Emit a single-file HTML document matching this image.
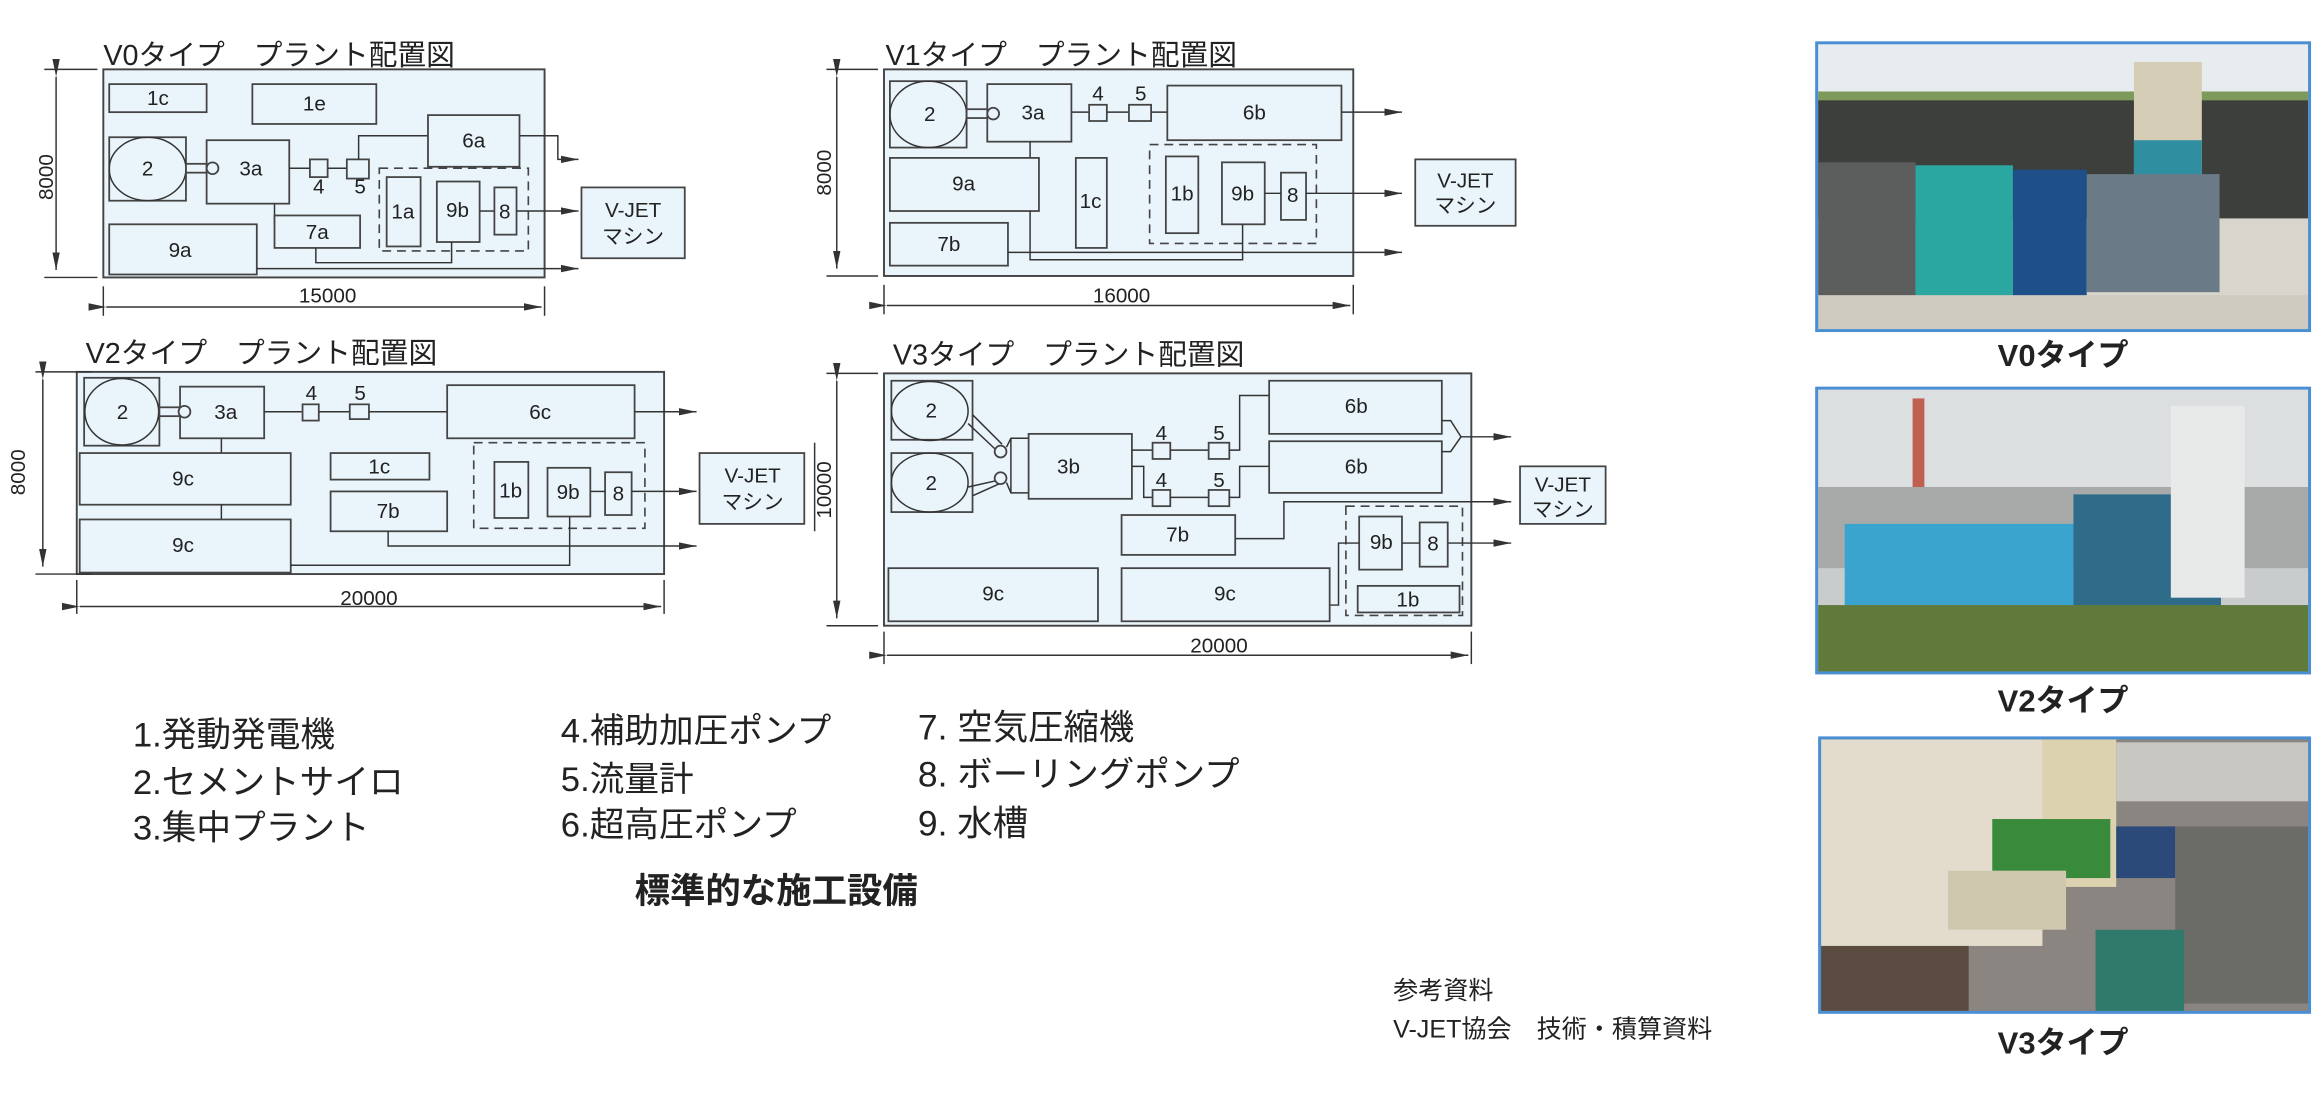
<!DOCTYPE html>
<html><head><meta charset="utf-8"><style>
html,body{margin:0;padding:0;background:#fff;}
svg{display:block;}
text{font-family:"Liberation Sans","Noto Sans CJK JP",sans-serif;fill:#222;}
.f{fill:#eaf4fb;stroke:#444;stroke-width:1.3;}
.b{fill:#eaf4fb;stroke:#444;stroke-width:1.2;}
.l{fill:none;stroke:#333;stroke-width:1;}
.d{fill:none;stroke:#444;stroke-width:1.1;stroke-dasharray:6,4;}
.t{font-size:14px;text-anchor:middle;}
.h{font-size:19.5px;}
.g{font-size:23.5px;}
.c{font-size:21px;font-weight:bold;text-anchor:middle;}
</style></head><body>
<svg width="2314" height="1095" viewBox="0 0 1568 742" xmlns="http://www.w3.org/2000/svg">
<defs><marker id="a" markerWidth="12" markerHeight="6" refX="12" refY="3" orient="auto" markerUnits="userSpaceOnUse"><path d="M0,0.5 L12,3 L0,5.5 z" fill="#333"/></marker></defs>

<!-- V0 -->
<text class="h" x="70" y="44">V0タイプ　プラント配置図</text>
<rect class="f" x="70" y="47" width="299" height="141"/>
<line class="l" x1="30" y1="47" x2="66" y2="47"/><line class="l" x1="30" y1="188" x2="66" y2="188"/>
<line class="l" x1="38" y1="52" x2="38" y2="183" marker-end="url(#a)" marker-start="url(#a)"/>
<text class="t" transform="translate(36,120) rotate(-90)" x="0" y="0">8000</text>
<line class="l" x1="70" y1="194" x2="70" y2="214"/><line class="l" x1="369" y1="194" x2="369" y2="214"/>
<line class="l" x1="72" y1="208" x2="367" y2="208" marker-end="url(#a)" marker-start="url(#a)"/>
<text class="t" x="222" y="205">15000</text>
<rect class="b" x="74" y="57" width="66" height="19"/><text class="t" x="107" y="71">1c</text>
<rect class="b" x="171" y="57" width="84" height="27"/><text class="t" x="213" y="75">1e</text>
<rect class="b" x="74" y="93" width="52" height="43"/><ellipse class="l" cx="100" cy="114.5" rx="26" ry="21.5"/><text class="t" x="100" y="119">2</text>
<rect class="b" x="126" y="111" width="14" height="6"/>
<rect class="b" x="140" y="95" width="56" height="43"/><text class="t" x="170" y="119">3a</text>
<circle class="b" cx="144" cy="114" r="4"/>
<line class="l" x1="196" y1="114" x2="210" y2="114"/>
<rect class="b" x="210" y="108" width="12" height="12"/><text class="t" x="216" y="131">4</text>
<line class="l" x1="222" y1="114" x2="235" y2="114"/>
<rect class="b" x="235" y="108" width="15" height="13"/><text class="t" x="244" y="131">5</text>
<polyline class="l" points="243,108 243,92 290,92"/>
<rect class="b" x="290" y="78" width="62" height="35"/><text class="t" x="321" y="100">6a</text>
<polyline class="l" points="352,92 378,92 378,108 392,108" marker-end="url(#a)"/>
<rect class="d" x="257" y="114" width="101" height="56"/>
<rect class="b" x="262" y="120" width="23" height="47"/><text class="t" x="273" y="148">1a</text>
<rect class="b" x="296" y="123" width="29" height="41"/><text class="t" x="310" y="147">9b</text>
<rect class="b" x="335" y="127" width="15" height="32"/><text class="t" x="342" y="148">8</text>
<line class="l" x1="325" y1="143" x2="335" y2="143"/>
<line class="l" x1="350" y1="143" x2="392" y2="143" marker-end="url(#a)"/>
<rect class="b" x="394" y="127" width="70" height="48"/><text class="t" x="429" y="147">V-JET</text><text class="t" x="429" y="165">マシン</text>
<line class="l" x1="186" y1="138" x2="186" y2="152"/>
<rect class="b" x="74" y="152" width="100" height="34"/><text class="t" x="122" y="174">9a</text>
<rect class="b" x="186" y="146" width="58" height="22"/><text class="t" x="215" y="162">7a</text>
<polyline class="l" points="214,168 214,178 306,178 306,164"/>
<line class="l" x1="174" y1="182" x2="392" y2="182" marker-end="url(#a)"/>

<!-- V1 -->
<text class="h" x="600" y="44">V1タイプ　プラント配置図</text>
<rect class="f" x="599" y="47" width="318" height="140"/>
<line class="l" x1="560" y1="47" x2="595" y2="47"/><line class="l" x1="560" y1="187" x2="595" y2="187"/>
<line class="l" x1="567" y1="52" x2="567" y2="182" marker-end="url(#a)" marker-start="url(#a)"/>
<text class="t" transform="translate(563,117) rotate(-90)">8000</text>
<line class="l" x1="599" y1="193" x2="599" y2="213"/><line class="l" x1="917" y1="193" x2="917" y2="213"/>
<line class="l" x1="601" y1="207" x2="915" y2="207" marker-end="url(#a)" marker-start="url(#a)"/>
<text class="t" x="760" y="205">16000</text>
<rect class="b" x="603" y="55" width="52" height="45"/><ellipse class="l" cx="629" cy="77.5" rx="26" ry="22.5"/><text class="t" x="630" y="82">2</text>
<rect class="b" x="655" y="74" width="15" height="6"/>
<rect class="b" x="669" y="57" width="57" height="39"/><text class="t" x="700" y="81">3a</text>
<circle class="b" cx="673" cy="77" r="4"/>
<line class="l" x1="726" y1="76" x2="738" y2="76"/>
<rect class="b" x="738" y="71" width="12" height="11"/><text class="t" x="744" y="68">4</text>
<line class="l" x1="750" y1="76" x2="765" y2="76"/>
<rect class="b" x="765" y="71" width="15" height="11"/><text class="t" x="773" y="68">5</text>
<line class="l" x1="780" y1="76" x2="791" y2="76"/>
<rect class="b" x="791" y="58" width="118" height="37"/><text class="t" x="850" y="81">6b</text>
<line class="l" x1="909" y1="76" x2="950" y2="76" marker-end="url(#a)"/>
<line class="l" x1="698" y1="96" x2="698" y2="107"/>
<rect class="b" x="603" y="107" width="101" height="36"/><text class="t" x="653" y="129">9a</text>
<rect class="b" x="729" y="107" width="21" height="61"/><text class="t" x="739" y="141">1c</text>
<rect class="d" x="779" y="98" width="113" height="67"/>
<rect class="b" x="790" y="106" width="22" height="52"/><text class="t" x="801" y="136">1b</text>
<rect class="b" x="828" y="110" width="29" height="42"/><text class="t" x="842" y="136">9b</text>
<rect class="b" x="868" y="117" width="17" height="32"/><text class="t" x="876" y="137">8</text>
<line class="l" x1="857" y1="131" x2="868" y2="131"/>
<line class="l" x1="885" y1="131" x2="950" y2="131" marker-end="url(#a)"/>
<rect class="b" x="959" y="108" width="68" height="45"/><text class="t" x="993" y="127">V-JET</text><text class="t" x="993" y="144">マシン</text>
<rect class="b" x="603" y="151" width="80" height="29"/><text class="t" x="643" y="170">7b</text>
<polyline class="l" points="698,143 698,176 842,176 842,152"/>
<line class="l" x1="683" y1="171" x2="950" y2="171" marker-end="url(#a)"/>

<!-- V2 -->
<text class="h" x="58" y="246">V2タイプ　プラント配置図</text>
<rect class="f" x="52" y="252" width="398" height="137"/>
<line class="l" x1="24" y1="252" x2="62" y2="252"/><line class="l" x1="24" y1="389" x2="62" y2="389"/>
<line class="l" x1="29" y1="257" x2="29" y2="384" marker-end="url(#a)" marker-start="url(#a)"/>
<text class="t" transform="translate(17,320) rotate(-90)">8000</text>
<line class="l" x1="52" y1="393" x2="52" y2="416"/><line class="l" x1="450" y1="393" x2="450" y2="416"/>
<line class="l" x1="54" y1="411" x2="448" y2="411" marker-end="url(#a)" marker-start="url(#a)"/>
<text class="t" x="250" y="410">20000</text>
<rect class="b" x="57" y="256" width="51" height="46"/><ellipse class="l" cx="82.5" cy="279" rx="25" ry="22.5"/><text class="t" x="83" y="284">2</text>
<rect class="b" x="108" y="276" width="14" height="6"/>
<rect class="b" x="122" y="262" width="57" height="35"/><text class="t" x="153" y="284">3a</text>
<circle class="b" cx="125" cy="279" r="4"/>
<line class="l" x1="179" y1="279" x2="205" y2="279"/>
<rect class="b" x="205" y="274" width="11" height="11"/><text class="t" x="211" y="271">4</text>
<line class="l" x1="216" y1="279" x2="237" y2="279"/>
<rect class="b" x="237" y="274" width="13" height="10"/><text class="t" x="244" y="271">5</text>
<line class="l" x1="250" y1="279" x2="303" y2="279"/>
<rect class="b" x="303" y="261" width="127" height="36"/><text class="t" x="366" y="284">6c</text>
<line class="l" x1="430" y1="279" x2="472" y2="279" marker-end="url(#a)"/>
<line class="l" x1="150" y1="297" x2="150" y2="307"/>
<rect class="b" x="54" y="307" width="143" height="35"/><text class="t" x="124" y="329">9c</text>
<line class="l" x1="150" y1="342" x2="150" y2="352"/>
<rect class="b" x="54" y="352" width="143" height="36"/><text class="t" x="124" y="374">9c</text>
<rect class="b" x="224" y="307" width="67" height="18"/><text class="t" x="257" y="321">1c</text>
<rect class="b" x="224" y="333" width="79" height="27"/><text class="t" x="263" y="351">7b</text>
<polyline class="l" points="263,360 263,370 472,370" marker-end="url(#a)"/>
<rect class="d" x="321" y="300" width="116" height="58"/>
<rect class="b" x="335" y="313" width="23" height="38"/><text class="t" x="346" y="337">1b</text>
<rect class="b" x="371" y="317" width="29" height="33"/><text class="t" x="385" y="338">9b</text>
<rect class="b" x="410" y="320" width="18" height="29"/><text class="t" x="419" y="339">8</text>
<line class="l" x1="400" y1="333" x2="410" y2="333"/>
<line class="l" x1="428" y1="333" x2="472" y2="333" marker-end="url(#a)"/>
<rect class="b" x="474" y="307" width="71" height="48"/><text class="t" x="510" y="327">V-JET</text><text class="t" x="510" y="345">マシン</text>
<polyline class="l" points="197,383 386,383 386,350"/>

<!-- V3 -->
<text class="h" x="605" y="247">V3タイプ　プラント配置図</text>
<rect class="f" x="599" y="253" width="398" height="171"/>
<line class="l" x1="560" y1="253" x2="595" y2="253"/><line class="l" x1="560" y1="424" x2="595" y2="424"/>
<line class="l" x1="567" y1="258" x2="567" y2="419" marker-end="url(#a)" marker-start="url(#a)"/>
<line class="l" x1="552" y1="300" x2="552" y2="360"/>
<text class="t" transform="translate(563,332) rotate(-90)">10000</text>
<line class="l" x1="599" y1="428" x2="599" y2="450"/><line class="l" x1="997" y1="428" x2="997" y2="450"/>
<line class="l" x1="601" y1="444" x2="995" y2="444" marker-end="url(#a)" marker-start="url(#a)"/>
<text class="t" x="826" y="442">20000</text>
<rect class="b" x="604" y="258" width="55" height="40"/><ellipse class="l" cx="630" cy="278.5" rx="26" ry="20"/><text class="t" x="631" y="283">2</text>
<rect class="b" x="604" y="307" width="55" height="40"/><ellipse class="l" cx="630" cy="327" rx="26" ry="20"/><text class="t" x="631" y="332">2</text>
<line class="l" x1="656" y1="287" x2="674" y2="304"/><line class="l" x1="659" y1="281" x2="679" y2="301"/>
<line class="l" x1="656" y1="330" x2="674" y2="326"/><line class="l" x1="659" y1="336" x2="679" y2="327"/>
<circle class="b" cx="678" cy="306" r="4"/><circle class="b" cx="678" cy="324" r="4"/>
<polyline class="l" points="682,303 685,297 697,297"/><polyline class="l" points="682,327 685,334 697,334"/>
<line class="l" x1="685" y1="297" x2="685" y2="334"/>
<rect class="b" x="697" y="294" width="70" height="44"/><text class="t" x="724" y="321">3b</text>
<polyline class="l" points="767,305 781,305"/>
<rect class="b" x="781" y="300" width="12" height="11"/><text class="t" x="787" y="298">4</text>
<line class="l" x1="793" y1="305" x2="819" y2="305"/>
<rect class="b" x="819" y="300" width="14" height="11"/><text class="t" x="826" y="298">5</text>
<polyline class="l" points="833,305 840,305 840,268 860,268"/>
<polyline class="l" points="767,316 775,316 775,337 781,337"/>
<rect class="b" x="781" y="332" width="12" height="11"/><text class="t" x="787" y="330">4</text>
<line class="l" x1="793" y1="337" x2="819" y2="337"/>
<rect class="b" x="819" y="332" width="14" height="11"/><text class="t" x="826" y="330">5</text>
<polyline class="l" points="833,337 840,337 840,316 860,316"/>
<rect class="b" x="860" y="258" width="117" height="36"/><text class="t" x="919" y="280">6b</text>
<rect class="b" x="860" y="299" width="117" height="35"/><text class="t" x="919" y="321">6b</text>
<polyline class="l" points="977,285 983,285 990,296 983,306 977,306"/>
<line class="l" x1="990" y1="296" x2="1024" y2="296" marker-end="url(#a)"/>
<rect class="b" x="1030" y="316" width="58" height="39"/><text class="t" x="1059" y="333">V-JET</text><text class="t" x="1059" y="350">マシン</text>
<rect class="b" x="760" y="349" width="77" height="27"/><text class="t" x="798" y="367">7b</text>
<polyline class="l" points="837,365 870,365 870,340 1024,340" marker-end="url(#a)"/>
<rect class="d" x="912" y="343" width="79" height="74"/>
<rect class="b" x="921" y="350" width="29" height="36"/><text class="t" x="936" y="372">9b</text>
<rect class="b" x="962" y="354" width="19" height="30"/><text class="t" x="971" y="373">8</text>
<line class="l" x1="950" y1="368" x2="962" y2="368"/>
<line class="l" x1="981" y1="368" x2="1024" y2="368" marker-end="url(#a)"/>
<rect class="b" x="920" y="397" width="69" height="18"/><text class="t" x="954" y="411">1b</text>
<rect class="b" x="602" y="385" width="142" height="36"/><text class="t" x="673" y="407">9c</text>
<rect class="b" x="760" y="385" width="141" height="36"/><text class="t" x="830" y="407">9c</text>
<polyline class="l" points="901,410 907,410 907,368 921,368"/>

<!-- legend -->
<text class="g" x="90" y="506">1.発動発電機</text>
<text class="g" x="90" y="538">2.セメントサイロ</text>
<text class="g" x="90" y="569">3.集中プラント</text>
<text class="g" x="380" y="503">4.補助加圧ポンプ</text>
<text class="g" x="380" y="536">5.流量計</text>
<text class="g" x="380" y="567">6.超高圧ポンプ</text>
<text class="g" x="622" y="501" style="font-size:24px">7. 空気圧縮機</text>
<text class="g" x="622" y="533" style="font-size:24px">8. ボーリングポンプ</text>
<text class="g" x="622" y="566" style="font-size:24px">9. 水槽</text>
<text class="g" x="430" y="612" style="font-weight:bold;font-size:24px">標準的な施工設備</text>
<text x="944" y="677" style="font-size:17px">参考資料</text>
<text x="944" y="703" style="font-size:17px">V-JET協会　技術・積算資料</text>

<!-- photos -->
<g>
<rect x="1231" y="29" width="334" height="195" fill="#d8d6cc"/>
<rect x="1232" y="30" width="332" height="35" fill="#e6ecef"/>
<rect x="1232" y="62" width="332" height="8" fill="#7d9a5a"/>
<rect x="1232" y="68" width="332" height="80" fill="#3d3f3c"/>
<rect x="1446" y="42" width="46" height="95" fill="#d5cdb5"/>
<rect x="1446" y="95" width="46" height="45" fill="#2f8fa0"/>
<rect x="1232" y="110" width="66" height="112" fill="#5c5e5e"/>
<rect x="1298" y="112" width="66" height="100" fill="#2aa7a0"/>
<rect x="1364" y="115" width="50" height="90" fill="#1f4f88"/>
<rect x="1414" y="118" width="90" height="80" fill="#6a7a86"/>
<rect x="1232" y="200" width="332" height="23" fill="#cfcbc0"/>
<rect x="1231" y="29" width="334" height="195" fill="none" stroke="#4a8fd4" stroke-width="2"/>
</g>
<text class="c" x="1398" y="248">V0タイプ</text>
<g>
<rect x="1231" y="263" width="334" height="193" fill="#c9cccd"/>
<rect x="1232" y="264" width="332" height="70" fill="#dcdfe0"/>
<rect x="1232" y="330" width="332" height="55" fill="#a7aaa8"/>
<rect x="1250" y="355" width="155" height="55" fill="#3aa4cf"/>
<rect x="1405" y="335" width="100" height="80" fill="#2f6c8a"/>
<rect x="1471" y="275" width="50" height="130" fill="#e8eaea"/>
<rect x="1296" y="270" width="8" height="60" fill="#c06050"/>
<rect x="1232" y="410" width="332" height="45" fill="#5f7a3a"/>
<rect x="1231" y="263" width="334" height="193" fill="none" stroke="#4a8fd4" stroke-width="2"/>
</g>
<text class="c" x="1398" y="482">V2タイプ</text>
<g>
<rect x="1233" y="500" width="332" height="186" fill="#8a8580"/>
<rect x="1234" y="501" width="150" height="140" fill="#e3dccd"/>
<rect x="1384" y="501" width="50" height="100" fill="#ddd2b0"/>
<rect x="1434" y="503" width="130" height="40" fill="#c8c7c2"/>
<rect x="1350" y="555" width="80" height="40" fill="#3a8a3c"/>
<rect x="1320" y="590" width="80" height="40" fill="#cfc7ae"/>
<rect x="1434" y="560" width="40" height="35" fill="#2b4a7a"/>
<rect x="1474" y="560" width="90" height="120" fill="#6b6b68"/>
<rect x="1420" y="630" width="60" height="55" fill="#2f7a6a"/>
<rect x="1234" y="641" width="100" height="44" fill="#5a4a3f"/>
<rect x="1233" y="500" width="332" height="186" fill="none" stroke="#4a8fd4" stroke-width="2"/>
</g>
<text class="c" x="1398" y="714">V3タイプ</text>
</svg>
</body></html>
